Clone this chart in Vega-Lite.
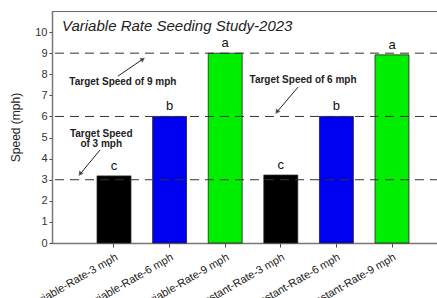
{
  "$schema": "https://vega.github.io/schema/vega-lite/v6.json",
  "autosize": "none",
  "width": 402,
  "height": 232,
  "padding": {"left": 52, "top": 11, "right": 0, "bottom": 60},
  "background": "white",
  "config": {
    "font": "Liberation Sans",
    "view": {"stroke": "#666666", "strokeWidth": 1},
    "axisY": {
      "title": "Speed (mph)",
      "titleFontSize": 12,
      "titleFontWeight": "normal",
      "titleColor": "#222222",
      "titlePadding": 12,
      "grid": false,
      "labelFontSize": 11,
      "labelColor": "#333333",
      "labelPadding": 2,
      "tickSize": 3,
      "tickColor": "#444444",
      "domainColor": "#777777",
      "domainWidth": 1.5
    }
  },
  "title": {
    "text": "Variable Rate Seeding Study-2023",
    "anchor": "start",
    "frame": "group",
    "offset": -8,
    "dx": 10,
    "dy": 15,
    "baseline": "top",
    "font": "Liberation Sans",
    "fontStyle": "italic",
    "fontWeight": "normal",
    "fontSize": 15,
    "color": "#222222"
  },
  "datasets": {
    "bars": [
      {"cat": "Variable-Rate-3 mph", "speed": 3.18, "letter": "c", "target": "3"},
      {"cat": "Variable-Rate-6 mph", "speed": 6.0, "letter": "b", "target": "6"},
      {"cat": "Variable-Rate-9 mph", "speed": 9.0, "letter": "a", "target": "9"},
      {"cat": "Constant-Rate-3 mph", "speed": 3.22, "letter": "c", "target": "3"},
      {"cat": "Constant-Rate-6 mph", "speed": 6.0, "letter": "b", "target": "6"},
      {"cat": "Constant-Rate-9 mph", "speed": 8.92, "letter": "a", "target": "9"}
    ],
    "targets": [{"t": 3}, {"t": 6}, {"t": 9}],
    "notes": [
      {"px": 1.16, "py": 7.63, "line": "Target Speed of 9 mph"},
      {"px": 4.40, "py": 7.72, "line": "Target Speed of 6 mph"},
      {"px": 0.77, "py": 5.17, "line": "Target Speed"},
      {"px": 0.77, "py": 4.69, "line": "of 3 mph"}
    ],
    "arrows": [
      {"x1": 1.07, "y1": 7.91, "x2": 1.52, "y2": 8.72, "ang": 56},
      {"x1": 4.31, "y1": 7.39, "x2": 3.93, "y2": 6.21, "ang": 212},
      {"x1": 0.75, "y1": 4.41, "x2": 0.39, "y2": 3.27, "ang": 213}
    ]
  },
  "resolve": {"scale": {"x": "independent"}},
  "layer": [
    {
      "data": {"name": "bars"},
      "layer": [
        {
          "mark": {"type": "bar", "stroke": "#222222", "strokeWidth": 0.8},
          "encoding": {
            "x": {
              "field": "cat",
              "type": "nominal",
              "sort": null,
              "scale": {"paddingInner": 0.39, "paddingOuter": 0.81},
              "axis": {
                "title": null,
                "labelAngle": -30,
                "labelFontSize": 11,
                "labelColor": "#222222",
                "labelPadding": 4,
                "tickSize": 4,
                "tickColor": "#444444",
                "domainColor": "#777777",
                "domainWidth": 1.5
              }
            },
            "y": {
              "field": "speed",
              "type": "quantitative",
              "scale": {"domain": [0, 11], "nice": false},
              "axis": {"title": "Speed (mph)", "values": [0, 1, 2, 3, 4, 5, 6, 7, 8, 9, 10]}
            },
            "color": {
              "field": "target",
              "type": "nominal",
              "scale": {"domain": ["3", "6", "9"], "range": ["#000000", "#0000f0", "#00ee00"]},
              "legend": null
            }
          }
        },
        {
          "mark": {"type": "text", "baseline": "bottom", "dy": -3, "fontSize": 13, "color": "#111111"},
          "encoding": {
            "x": {"field": "cat", "type": "nominal", "sort": null},
            "y": {"field": "speed", "type": "quantitative", "axis": {"title": "Speed (mph)", "values": [0, 1, 2, 3, 4, 5, 6, 7, 8, 9, 10]}},
            "text": {"field": "letter"}
          }
        }
      ]
    },
    {
      "data": {"name": "targets"},
      "mark": {"type": "rule", "strokeDash": [9, 6], "color": "#333333", "strokeWidth": 1},
      "encoding": {
        "y": {"field": "t", "type": "quantitative", "axis": {"title": "Speed (mph)", "values": [0, 1, 2, 3, 4, 5, 6, 7, 8, 9, 10]}}
      }
    },
    {
      "data": {"name": "notes"},
      "mark": {"type": "text", "fontSize": 10, "fontWeight": "bold", "color": "#222222"},
      "encoding": {
        "x": {"field": "px", "type": "quantitative", "scale": {"domain": [-0.115, 7.115], "nice": false, "zero": false}, "axis": null},
        "y": {"field": "py", "type": "quantitative", "axis": {"title": "Speed (mph)", "values": [0, 1, 2, 3, 4, 5, 6, 7, 8, 9, 10]}},
        "text": {"field": "line"}
      }
    },
    {
      "data": {"name": "arrows"},
      "layer": [
        {
          "mark": {"type": "rule", "color": "#222222", "strokeWidth": 1},
          "encoding": {
            "x": {"field": "x1", "type": "quantitative", "scale": {"domain": [-0.115, 7.115], "nice": false, "zero": false}, "axis": null},
            "x2": {"field": "x2"},
            "y": {"field": "y1", "type": "quantitative", "axis": {"title": "Speed (mph)", "values": [0, 1, 2, 3, 4, 5, 6, 7, 8, 9, 10]}},
            "y2": {"field": "y2"}
          }
        },
        {
          "mark": {"type": "point", "shape": "triangle-up", "filled": true, "size": 30, "color": "#222222"},
          "encoding": {
            "x": {"field": "x2", "type": "quantitative", "scale": {"domain": [-0.115, 7.115], "nice": false, "zero": false}, "axis": null},
            "y": {"field": "y2", "type": "quantitative", "axis": {"title": "Speed (mph)", "values": [0, 1, 2, 3, 4, 5, 6, 7, 8, 9, 10]}},
            "angle": {"field": "ang", "type": "quantitative", "scale": null}
          }
        }
      ]
    }
  ]
}
